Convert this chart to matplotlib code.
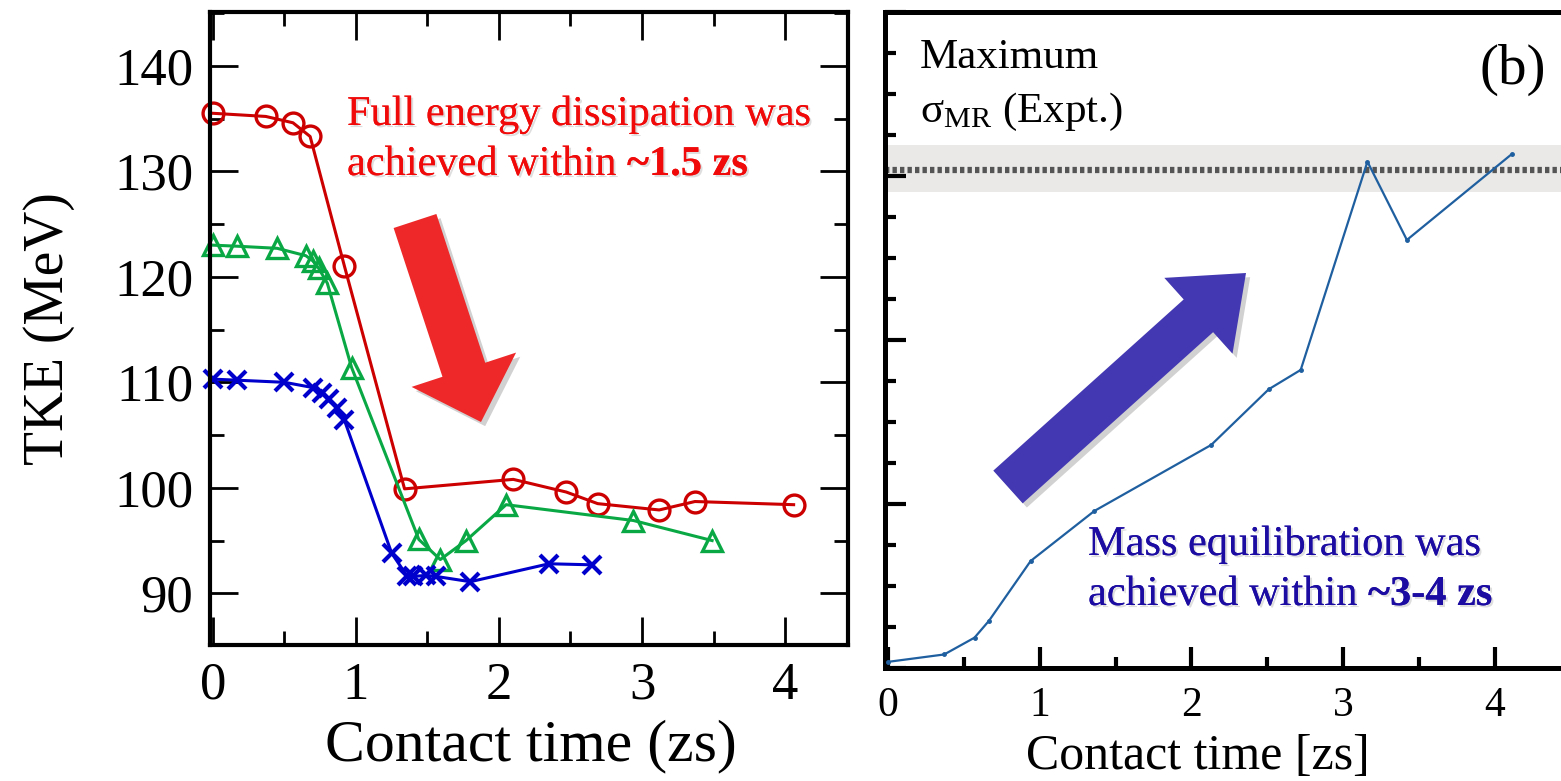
import matplotlib
matplotlib.use("Agg")
import matplotlib.pyplot as plt
import matplotlib.patheffects as pe
from matplotlib.patches import FancyArrow, Rectangle
from matplotlib.ticker import MultipleLocator, NullFormatter

plt.rcParams['font.family'] = ['Liberation Serif', 'DejaVu Serif']
plt.rcParams['mathtext.fontset'] = 'custom'
plt.rcParams['mathtext.rm'] = 'Liberation Serif'
plt.rcParams['mathtext.it'] = 'Liberation Serif:italic'

# (a) TKE vs contact time, three systems
time_red = [0.0, 0.37, 0.56, 0.68, 0.92, 1.34, 2.10, 2.47, 2.69, 3.12, 3.37, 4.06]
tke_red = [135.5, 135.2, 134.6, 133.3, 121.0, 99.9, 100.8, 99.6, 98.5, 97.9, 98.7, 98.4]

time_green = [0.0, 0.17, 0.45, 0.65, 0.70, 0.74, 0.80, 0.97, 1.44, 1.59, 1.77, 2.05, 2.94, 3.49]
tke_green = [123.0, 122.9, 122.7, 122.0, 121.5, 120.8, 119.4, 111.4, 95.1, 93.2, 95.0, 98.4, 96.9, 95.0]

time_blue = [0.0, 0.17, 0.50, 0.70, 0.76, 0.81, 0.87, 0.92, 1.25, 1.36, 1.40, 1.49, 1.56, 1.80, 2.35, 2.65]
tke_blue = [110.3, 110.2, 110.0, 109.5, 109.0, 108.4, 107.6, 106.4, 93.8, 91.6, 91.6, 91.7, 91.6, 91.1, 92.8, 92.7]

# (b) mass-ratio width vs contact time (arbitrary units, no y labels in the original)
time_mr = [0.0, 0.37, 0.57, 0.665, 0.94, 1.36, 2.13, 2.51, 2.72, 3.16, 3.42, 4.11]
sigma_mr = [0.15, 0.33, 0.74, 1.15, 2.61, 3.83, 5.44, 6.80, 7.27, 12.35, 10.44, 12.53]
sigma_expt = 12.15
sigma_expt_lo, sigma_expt_hi = 11.62, 12.76

W, H = 1561, 781
fig = plt.figure(figsize=(W / 100, H / 100), dpi=100)

# ---- left panel ----
ax1 = fig.add_axes([210 / W, 1 - 645 / H, 638 / W, 633 / H])
ax1.plot(time_red, tke_red, color='#cc0000', lw=2.2, marker='o', ms=15,
         mfc='none', mew=2.4, clip_on=False)
ax1.plot(time_green, tke_green, color='#0aa845', lw=2.2, marker='^', ms=15,
         mfc='none', mew=2.4, clip_on=False)
ax1.plot(time_blue, tke_blue, color='#0000cc', lw=2.2, marker='x', ms=13,
         mew=3, clip_on=False)
ax1.set_xlim(-0.02, 4.44)
ax1.set_ylim(85.1, 145.1)
ax1.xaxis.set_major_locator(MultipleLocator(1))
ax1.xaxis.set_minor_locator(MultipleLocator(0.5))
ax1.yaxis.set_major_locator(MultipleLocator(10))
ax1.yaxis.set_minor_locator(MultipleLocator(5))
ax1.tick_params(which='both', direction='in', top=True, right=True, width=2)
ax1.tick_params(which='major', length=20, labelsize=38, pad=12)
ax1.tick_params(which='minor', length=10)
for s in ax1.spines.values():
    s.set_linewidth(3)
ax1.set_xlabel('Contact time (zs)', fontsize=43, va='baseline')
ax1.xaxis.set_label_coords(0.503, -0.182)
ax1.set_ylabel('TKE (MeV)', fontsize=40, labelpad=28)

# ---- right panel (cut off at the right edge) ----
ax2 = fig.add_axes([885 / W, 1 - 668 / H, 710 / W, 656 / H])
ax2.add_patch(Rectangle((-1, sigma_expt_lo), 10, sigma_expt_hi - sigma_expt_lo,
                        color='#eae9e8', lw=0, zorder=0))
ax2.axhline(sigma_expt, color='#555555', lw=4.5, ls=(0, (0.7, 0.5)), zorder=1)
ax2.plot(time_mr, sigma_mr, color='#1f5fa0', lw=1.6, marker='o', ms=2.5, zorder=3)
ax2.set_xlim(-0.02, 4.66)
ax2.set_ylim(0, 16)
ax2.xaxis.set_major_locator(MultipleLocator(1))
ax2.xaxis.set_minor_locator(MultipleLocator(0.5))
ax2.yaxis.set_major_locator(MultipleLocator(4))
ax2.yaxis.set_minor_locator(MultipleLocator(1))
ax2.yaxis.set_major_formatter(NullFormatter())
ax2.tick_params(which='both', direction='in', width=3)
ax2.tick_params(which='major', length=15, labelsize=30, pad=13)
ax2.tick_params(which='minor', length=8)
for s in ax2.spines.values():
    s.set_linewidth(3.6)
ax2.set_xlabel('Contact time [zs]', fontsize=36, va='baseline')
ax2.xaxis.set_label_coords(0.441, -0.154)

# ---- overlay in pixel coordinates for arrows and annotations ----
ov = fig.add_axes([0, 0, 1, 1], zorder=5)
ov.set_xlim(0, W)
ov.set_ylim(H, 0)
ov.axis('off')

shadow = [pe.withSimplePatchShadow(offset=(3, -3), shadow_rgbFace='k', alpha=0.18)]
ov.add_patch(FancyArrow(415, 221, 66, 201, width=45, head_width=110, head_length=55,
                        length_includes_head=True, color='#ee2828', lw=0,
                        path_effects=shadow))
ov.add_patch(FancyArrow(1008, 487, 238, -214, width=44, head_width=102, head_length=64,
                        length_includes_head=True, color='#4338b2', lw=0,
                        path_effects=shadow))

tshadow = [pe.withSimplePatchShadow(offset=(1.5, -1.5), shadow_rgbFace='k', alpha=0.13),
           pe.Normal()]
red_txt = '#f00a0a'
ov.text(347, 125, 'Full energy dissipation was', fontsize=30.5, color=red_txt,
        va='baseline', path_effects=tshadow)
t = ov.text(347, 175, 'achieved within ', fontsize=30.5, color=red_txt,
            va='baseline', path_effects=tshadow)
ov.annotate('~1.5 zs', xy=(1, 0), xycoords=t, fontsize=30.5, color=red_txt,
            fontweight='bold', va='bottom', path_effects=tshadow)

blue_txt = '#1c0ca2'
ov.text(1088, 555, 'Mass equilibration was', fontsize=30.5, color=blue_txt,
        va='baseline', path_effects=tshadow)
t = ov.text(1088, 605, 'achieved within ', fontsize=30.5, color=blue_txt,
            va='baseline', path_effects=tshadow)
ov.annotate('~3-4 zs', xy=(1, 0), xycoords=t, fontsize=30.5, color=blue_txt,
            fontweight='bold', va='bottom', path_effects=tshadow)

ov.text(920, 68, 'Maximum', fontsize=31, va='baseline')
ov.text(920, 122, r'σ$_{\mathrm{MR}}$ (Expt.)', fontsize=31, va='baseline')
ov.text(1480, 84, '(b)', fontsize=41, va='baseline')

fig.savefig('out.png', dpi=100)
